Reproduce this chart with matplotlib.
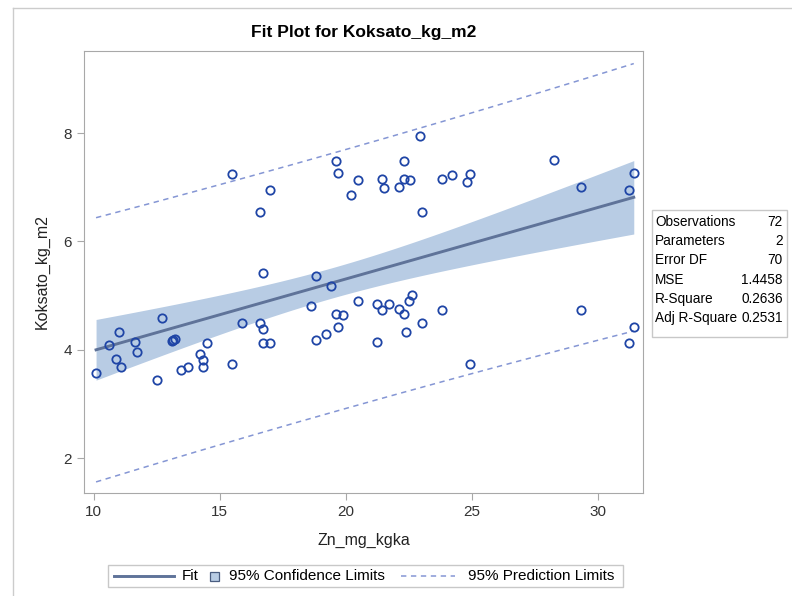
import numpy as np
import matplotlib
matplotlib.use("Agg")
from matplotlib import pyplot as plt
from matplotlib.lines import Line2D
from matplotlib.patches import Rectangle

# ------------------------------------------------------------------------------
# Data (Zn_mg_kgka vs Koksato_kg_m2)
# ------------------------------------------------------------------------------
zn = [15.49, 17.00, 16.62, 16.71,
      10.10, 10.61, 11.00, 10.89, 11.09, 11.63, 11.73, 12.70, 12.50, 13.11,
      13.22, 13.48, 13.73, 14.51, 14.22, 14.34, 14.33, 15.50, 15.89, 16.62,
      16.71, 16.71, 17.01,
      19.62, 19.70, 20.49, 20.20, 21.43, 21.52, 22.11, 22.30, 22.32, 22.53,
      22.95, 23.04, 23.83, 24.22, 18.83,
      19.41, 18.63, 19.62, 19.91, 20.49, 19.71, 18.83, 19.22, 21.22, 21.43,
      21.72, 22.11, 22.32, 22.50, 22.61, 21.22, 22.40, 23.04, 23.83,
      24.91, 24.80, 28.24, 29.31, 31.22, 31.42, 29.31, 31.42, 31.22, 24.91,
      13.17]
koksato = [7.25, 6.95, 6.54, 5.41,
           3.58, 4.09, 4.33, 3.84, 3.68, 4.15, 3.97, 4.59, 3.45, 4.17,
           4.20, 3.63, 3.69, 4.13, 3.93, 3.81, 3.69, 3.74, 4.49, 4.49,
           4.39, 4.13, 4.13,
           7.48, 7.27, 7.14, 6.86, 7.16, 6.98, 7.00, 7.48, 7.16, 7.14,
           7.94, 6.54, 7.16, 7.22, 5.37,
           5.17, 4.81, 4.67, 4.65, 4.90, 4.43, 4.19, 4.29, 4.84, 4.74,
           4.84, 4.75, 4.67, 4.91, 5.02, 4.15, 4.33, 4.49, 4.74,
           7.25, 7.10, 7.50, 7.00, 6.95, 7.27, 4.74, 4.43, 4.13, 3.74,
           4.18]

stat_names = ["Observations", "Parameters", "Error DF", "MSE", "R-Square", "Adj R-Square"]
stat_values = ["72", "2", "70", "1.4458", "0.2636", "0.2531"]
legend_labels = ["Fit", "95% Confidence Limits", "95% Prediction Limits"]

t_crit = 1.9944  # t(0.975, 70)

# ------------------------------------------------------------------------------
# Regression, confidence and prediction limits
# ------------------------------------------------------------------------------
x = np.array(zn)
y = np.array(koksato)
n = len(x)
b1, b0 = np.polyfit(x, y, 1)
resid = y - (b0 + b1*x)
mse = np.sum(resid**2)/(n - 2)
sxx = np.sum((x - x.mean())**2)
xs = np.linspace(x.min(), x.max(), 200)
fit = b0 + b1*xs
h = 1.0/n + (xs - x.mean())**2/sxx
clm = t_crit*np.sqrt(mse*h)
pred = t_crit*np.sqrt(mse*(1 + h))

# ------------------------------------------------------------------------------
# Plot characteristics
# ------------------------------------------------------------------------------
plt.rcParams['font.family'] = ['Liberation Sans', 'DejaVu Sans']
fit_col = '#5f7399'
band_col = '#b8cce4'
pred_col = '#8596d4'
mark_col = '#1f45a6'
gray = '#a8a8a8'
DASH = (3.5, 3)

W, H = 792.0, 596.0
fig = plt.figure(figsize=(7.92, 5.96), dpi=100)
ax = fig.add_axes([0.106, 0.1733, 0.706, 0.7417])

ax.fill_between(xs, fit - clm, fit + clm, color=band_col, lw=0, zorder=1)
ax.plot(xs, fit, color=fit_col, lw=2.1, zorder=2)
ax.plot(xs, fit + pred, color=pred_col, lw=1.1, dashes=DASH, zorder=2)
ax.plot(xs, fit - pred, color=pred_col, lw=1.1, dashes=DASH, zorder=2)
ax.plot(x, y, 'o', mfc='none', mec=mark_col, mew=1.3, ms=6, zorder=3)

ax.set_xlim(9.62, 31.79)
ax.set_ylim(1.365, 9.52)
ax.set_xticks([10, 15, 20, 25, 30])
ax.set_yticks([2, 4, 6, 8])
for sp in ax.spines.values():
    sp.set_color(gray)
ax.tick_params(colors='#333333', labelsize=11, length=5, color=gray, direction='out')
ax.set_xlabel("Zn_mg_kgka", fontsize=11.5, color='#222222', labelpad=10)
ax.set_ylabel("Koksato_kg_m2", fontsize=11.5, color='#222222', labelpad=10)
fig.text(364/W, 1 - 32/H, "Fit Plot for Koksato_kg_m2", ha='center', va='center',
         fontsize=12.5, fontweight='bold')

# ------------------------------------------------------------------------------
# Statistics inset
# ------------------------------------------------------------------------------
fig.patches.append(Rectangle((651.7/W, 1 - 336.7/H), 135/W, 126.7/H,
                             transform=fig.transFigure, fill=False,
                             ec='#c8c8c8', lw=1))
for i, (nm, val) in enumerate(zip(stat_names, stat_values)):
    yy = 1 - (221.7 + 19.3*i)/H
    fig.text(655/W, yy, nm, ha='left', va='center', fontsize=9.8)
    fig.text(782.7/W, yy, val, ha='right', va='center', fontsize=9.8)

# ------------------------------------------------------------------------------
# Legend (drawn by hand to keep the SAS spacing) and outer frame
# ------------------------------------------------------------------------------
ly = 1 - 576/H
fig.patches.append(Rectangle((107.5/W, 1 - 587.3/H), 515.5/W, 22.8/H,
                             transform=fig.transFigure, fill=False,
                             ec='#c8c8c8', lw=1))
fig.add_artist(Line2D([113.6/W, 174.1/W], [ly, ly], color=fit_col, lw=2.1,
                      transform=fig.transFigure))
fig.text(181.6/W, ly, legend_labels[0], ha='left', va='center', fontsize=11)
fig.patches.append(Rectangle((209.5/W, 1 - 580.5/H), 9.5/W, 8.5/H,
                             transform=fig.transFigure, fc=band_col,
                             ec='#4a5d80', lw=0.9))
fig.text(229/W, ly, legend_labels[1], ha='left', va='center', fontsize=11)
fig.add_artist(Line2D([400.7/W, 455.4/W], [ly, ly], color=pred_col, lw=1.1,
                      dashes=DASH, transform=fig.transFigure))
fig.text(468/W, ly, legend_labels[2], ha='left', va='center', fontsize=11)

fig.add_artist(Line2D([12.5/W, 12.5/W], [0, 1 - 8/H], color='#cccccc', lw=1,
                      transform=fig.transFigure))
fig.add_artist(Line2D([12.5/W, 1], [1 - 8/H, 1 - 8/H], color='#cccccc', lw=1,
                      transform=fig.transFigure))

plt.savefig('out.png', dpi=100)
